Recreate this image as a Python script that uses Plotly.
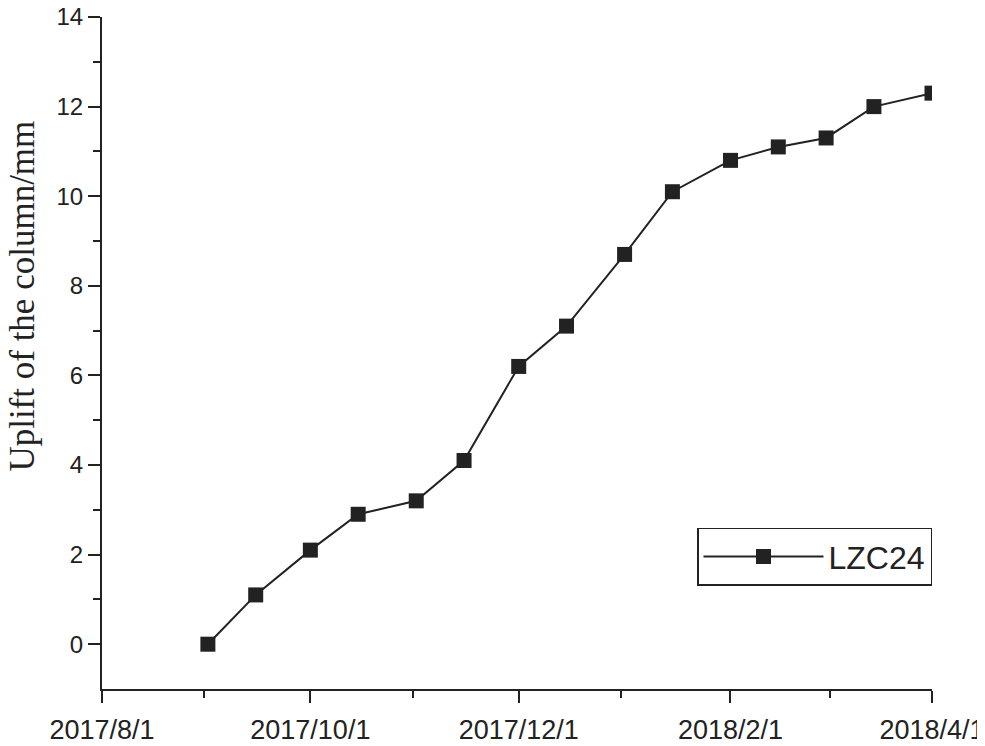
import plotly.graph_objects as go

# Measurement dates and uplift values (mm)
dates = [
    "2017-09-01", "2017-09-15", "2017-10-01", "2017-10-15", "2017-11-01",
    "2017-11-15", "2017-12-01", "2017-12-15", "2018-01-01", "2018-01-15",
    "2018-02-01", "2018-02-15", "2018-03-01", "2018-03-15", "2018-04-01",
]
uplift = [0, 1.1, 2.1, 2.9, 3.2, 4.1, 6.2, 7.1, 8.7, 10.1, 10.8, 11.1, 11.3, 12.0, 12.3]

major_ticks = ["2017-08-01", "2017-10-01", "2017-12-01", "2018-02-01", "2018-04-01"]
major_labels = ["2017/8/1", "2017/10/1", "2017/12/1", "2018/2/1", "2018/4/1"]
minor_ticks = ["2017-08-31", "2017-10-31", "2017-12-31", "2018-03-02"]

y_major = [0, 2, 4, 6, 8, 10, 12, 14]
y_minor = [1, 3, 5, 7, 9, 11, 13]

INK = "#222222"

fig = go.Figure()

fig.add_trace(
    go.Scatter(
        x=dates,
        y=uplift,
        name="LZC24",
        mode="lines+markers",
        line={"color": INK, "width": 2},
        marker={"symbol": "square", "size": 15, "color": INK},
    )
)

# page body has an 8px margin, so the figure is 8px smaller and margins shifted
fig.update_layout(
    width=977,
    height=738,
    margin={"l": 94, "r": 53, "t": 9, "b": 57},
    plot_bgcolor="white",
    paper_bgcolor="white",
    font={"family": "Liberation Sans, Arial, sans-serif", "color": INK},
    showlegend=True,
    legend={
        "x": 1.0,
        "y": 0.197,
        "xanchor": "right",
        "yanchor": "middle",
        "bordercolor": INK,
        "borderwidth": 1.5,
        "bgcolor": "white",
        "font": {"size": 32},
        "itemwidth": 120,
    },
)

# y-axis title as annotation so it sits where the original has it
fig.add_annotation(
    text="Uplift of the column/mm",
    textangle=-90,
    xref="paper",
    yref="paper",
    x=-0.0955,
    y=0.585,
    xanchor="center",
    yanchor="middle",
    showarrow=False,
    font={"family": "Liberation Serif, Times New Roman, serif", "size": 35, "color": INK},
)

axis_common = dict(
    ticks="outside",
    ticklen=12,
    tickwidth=2,
    tickcolor=INK,
    showline=True,
    linewidth=2,
    linecolor=INK,
    showgrid=False,
    zeroline=False,
    automargin=False,
    ticklabeloverflow="allow",
)

fig.update_xaxes(
    type="date",
    range=["2017-08-01", "2018-04-01"],
    tickvals=major_ticks,
    ticktext=major_labels,
    tickfont={"size": 27},
    ticklabelstandoff=4,
    minor={"tickvals": minor_ticks, "ticks": "outside", "ticklen": 7,
           "tickwidth": 2, "tickcolor": INK, "showgrid": False},
    **axis_common,
)

fig.update_yaxes(
    range=[-1, 14],
    tickvals=y_major,
    tickfont={"size": 24},
    minor={"tickvals": y_minor, "ticks": "outside", "ticklen": 7,
           "tickwidth": 2, "tickcolor": INK, "showgrid": False},
    **axis_common,
)

fig.write_html("out.html")
